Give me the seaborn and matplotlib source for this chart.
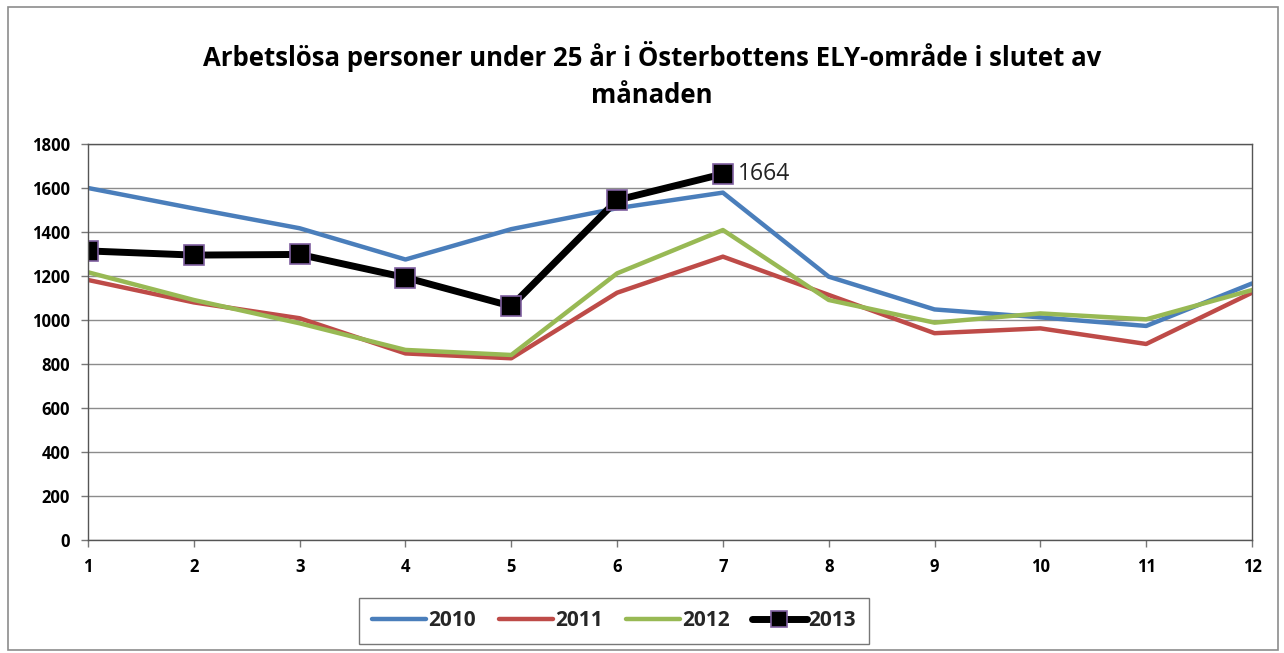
import numpy as np
import matplotlib.pyplot as plt
import pandas as pd
import seaborn as sns

# month numbers and unemployed persons under 25, per year
months = list(range(1, 13))
y2010 = [1600, 1507, 1417, 1275, 1413, 1508, 1579, 1197, 1048, 1012, 973, 1166]
y2011 = [1182, 1080, 1008, 848, 826, 1124, 1288, 1114, 940, 962, 891, 1124]
y2012 = [1217, 1091, 985, 864, 841, 1212, 1409, 1091, 988, 1030, 1003, 1136]
y2013 = [1314, 1295, 1298, 1193, 1063, 1545, 1664]

sns.set_theme(style='white')
plt.rcParams['font.family'] = ['Open Sans', 'DejaVu Sans']

fig = plt.figure(figsize=(12.84, 6.53), dpi=100)
ax = fig.add_axes([88 / 1284, 1 - 540 / 653, (1252 - 88) / 1284, (540 - 144) / 653])

df_old = pd.DataFrame({'month': months, '2010': y2010, '2011': y2011, '2012': y2012})
df_new = pd.DataFrame({'month': months[:len(y2013)], '2013': y2013})

sns.lineplot(data=df_old, x='month', y='2010', color='#4A7EBB', lw=3.2, label='2010', ax=ax)
sns.lineplot(data=df_old, x='month', y='2011', color='#BE4B48', lw=3.2, label='2011', ax=ax)
sns.lineplot(data=df_old, x='month', y='2012', color='#98B954', lw=3.2, label='2012', ax=ax)
sns.lineplot(data=df_new, x='month', y='2013', color='black', lw=5, marker='s',
             markersize=15, markerfacecolor='black', markeredgecolor='#7F5F9F',
             markeredgewidth=1.2, label='2013', ax=ax)

# label for the last 2013 point
ax.annotate(str(y2013[-1]), (months[len(y2013) - 1], y2013[-1]), xytext=(11, 0),
            textcoords='offset points', va='center', ha='left', fontsize=16.5, color='#222222')

ax.set_xlim(1, 12)
ax.set_ylim(0, 1800)
ax.set_xticks(months)
ax.set_yticks(range(0, 1801, 200))
ax.set_xlabel('')
ax.set_ylabel('')
ax.yaxis.grid(True, color='#8C8C8C', lw=1)
ax.xaxis.grid(False)
for s in ax.spines.values():
    s.set_color('#555555')
    s.set_linewidth(1)
ax.tick_params(axis='both', which='both', length=5, width=1, color='#777777',
               labelsize=12, direction='out', bottom=True, left=True, pad=8,
               labelcolor='black')
for lab in ax.get_xticklabels() + ax.get_yticklabels():
    lab.set_fontweight('bold')

fig.text(652 / 1284, 1 - 75 / 653,
         'Arbetslösa personer under 25 år i Österbottens ELY-område i slutet av\nmånaden',
         ha='center', va='center', fontsize=18.5, fontweight='bold', linespacing=1.5,
         color='black')

leg = ax.legend(loc='center', bbox_to_anchor=(614 / 1284, 1 - 621 / 653),
                bbox_transform=fig.transFigure, ncol=4, frameon=True, fancybox=False,
                prop={'weight': 'bold', 'size': 15}, handlelength=2.6, handletextpad=0.1,
                columnspacing=1.1, borderpad=0.6, borderaxespad=0, markerscale=0.75)
leg.get_frame().set_edgecolor('#555555')
leg.get_frame().set_linewidth(1)

# outer chart border
fig.patches.append(plt.Rectangle((8 / 1284, 3 / 653), 1270 / 1284, 643 / 653,
                                 transform=fig.transFigure, fill=False,
                                 edgecolor='#8C8C8C', lw=1.2))

fig.savefig('out.png', dpi=100, facecolor='white')
